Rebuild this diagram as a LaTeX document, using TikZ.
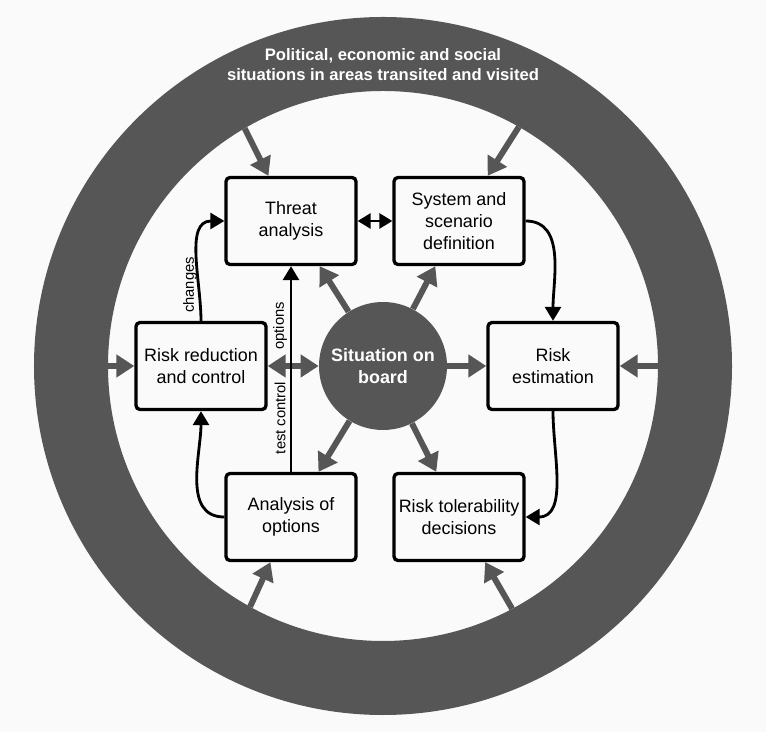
\documentclass[tikz,border=0pt]{standalone}
\usepackage{fontspec}
\setmainfont{Liberation Sans}
\usetikzlibrary{arrows.meta}
\definecolor{ringgray}{RGB}{86,86,86}
\definecolor{paper}{RGB}{250,250,250}
\tikzset{
  stage/.style={draw=black, line width=1.9pt, fill=paper, rounded corners=0.08cm,
    minimum width=2.6cm, minimum height=1.74cm, inner sep=0pt, align=center,
    font=\fontsize{10.2}{12.4}\selectfont},
  feed/.style={draw=ringgray, line width=3.4pt, -{Triangle[length=0.36cm,width=0.44cm]}},
  feedboth/.style={draw=ringgray, line width=3.4pt,
    {Triangle[length=0.36cm,width=0.44cm]}-{Triangle[length=0.36cm,width=0.44cm]}},
  flow/.style={draw=black, line width=1.6pt, -{Triangle[length=0.28cm,width=0.32cm]}},
  flowboth/.style={draw=black, line width=1.6pt,
    {Triangle[length=0.26cm,width=0.3cm]}-{Triangle[length=0.26cm,width=0.3cm]}},
  tag/.style={font=\fontsize{8.4}{10}\selectfont, rotate=90, inner sep=1pt}
}

\begin{document}
\begin{tikzpicture}[x=0.02cm, y=0.02cm]
  \fill[paper] (-383,-366) rectangle (383,366);
  \useasboundingbox (-383,-366) rectangle (383,366);
  \fill[ringgray, even odd rule] (0,0) circle (349) (0,0) circle (275);
  \node[text=white, align=center, font=\bfseries\fontsize{9.45}{11.4}\selectfont] (ringtext) at (0,301)
    {Political, economic and social\\situations in areas transited and visited};

  \node[circle, fill=ringgray, minimum size=2.56cm, inner sep=0pt, text=white, align=center,
    font=\bfseries\fontsize{10.2}{12.3}\selectfont] (board) at (0,0) {Situation on\\board};

  \node[stage] (threat) at (-92,145) {Threat\\analysis};
  \node[stage] (system) at (76,145) {System and\\scenario\\definition};
  \node[stage] (reduction) at (-182,0) {Risk reduction\\and control};
  \node[stage] (estimation) at (170,0) {Risk\\estimation};
  \node[stage] (options) at (-92,-151) {Analysis of\\options};
  \node[stage] (tolerability) at (76,-151) {Risk tolerability\\decisions};

  \coordinate (ringTA) at (120.2:275);
  \coordinate (ringSD) at (60.4:275);
  \coordinate (ringRC) at (180:275);
  \coordinate (ringRE) at (0:275);
  \coordinate (ringAO) at (241.1:275);
  \coordinate (ringTD) at (298:275);

  \draw[feed] (ringTA) -- (threat);
  \draw[feed] (ringSD) -- (system);
  \draw[feed] (ringRC) -- (reduction);
  \draw[feed] (ringRE) -- (estimation);
  \draw[feed] (ringAO) -- (options);
  \draw[feed] (ringTD) -- (tolerability);

  \draw[feed] (board) -- (threat);
  \draw[feed] (board) -- (system);
  \draw[feed] (board) -- (estimation);
  \draw[feed] (board) -- (options);
  \draw[feed] (board) -- (tolerability);
  \draw[feedboth] (reduction) -- (board);

  \draw[flowboth] (threat) -- (system);
  \draw[flow] (system.east) to[out=0, in=90] (estimation.north);
  \draw[flow] (estimation.south) to[out=-90, in=0] (tolerability.east);
  \draw[flow] (options.west) to[out=180, in=-90] (reduction.south);
  \draw[flow] (reduction.north) to[out=90, in=180] (threat.west);
  \draw[flow] (options.north) -- (threat.south);

  \node[tag] (changes) at (-193,81) {changes};
  \node[tag] (optionstag) at (-103,40) {options};
  \node[tag] (testtag) at (-103,-52) {test control};
\end{tikzpicture}
\end{document}
